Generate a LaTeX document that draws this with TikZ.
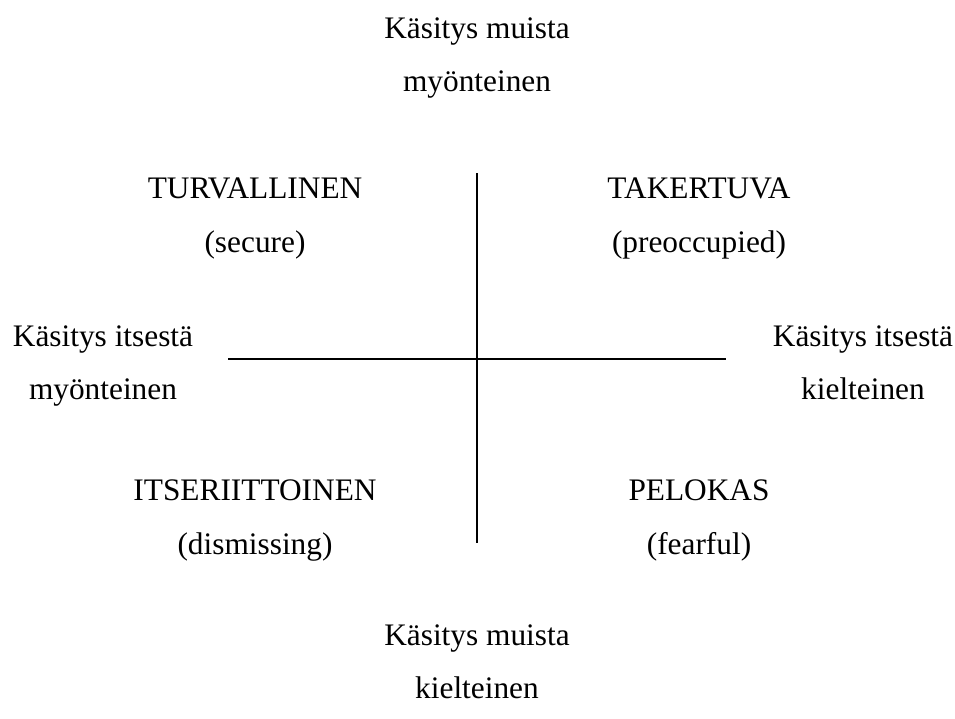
\documentclass[tikz,border=0pt]{standalone}
\usepackage{fontspec}
\setmainfont{Liberation Serif}
\begin{document}
\begin{tikzpicture}[x=0.75pt,y=-0.75pt,
  lbl/.style={anchor=base,inner sep=0pt,font=\fontsize{23.5}{27}\selectfont},
  axis/.style={line width=1.1pt,black}]
\useasboundingbox (0,0) rectangle (955,718);
\node[lbl] (t1) at (477,38) {Käsitys muista};
\node[lbl] (t2) at (477,91) {myönteinen};
\node[lbl] (q1a) at (255,198) {TURVALLINEN};
\node[lbl] (q1b) at (255,252) {(secure)};
\node[lbl] (q2a) at (699,198) {TAKERTUVA};
\node[lbl] (q2b) at (699,252) {(preoccupied)};
\node[lbl] (l1) at (103,346) {Käsitys itsestä};
\node[lbl] (l2) at (103,399) {myönteinen};
\node[lbl] (r1) at (863,346) {Käsitys itsestä};
\node[lbl] (r2) at (863,399) {kielteinen};
\node[lbl] (q3a) at (255,500) {ITSERIITTOINEN};
\node[lbl] (q3b) at (255,554) {(dismissing)};
\node[lbl] (q4a) at (699,500) {PELOKAS};
\node[lbl] (q4b) at (699,554) {(fearful)};
\node[lbl] (b1) at (477,645) {Käsitys muista};
\node[lbl] (b2) at (477,698) {kielteinen};
\coordinate (vt) at (477,173);
\coordinate (vb) at (477,543);
\coordinate (hl) at (228,359);
\coordinate (hr) at (726,359);
\draw[axis] (vt) -- (vb);
\draw[axis] (hl) -- (hr);
\end{tikzpicture}
\end{document}
